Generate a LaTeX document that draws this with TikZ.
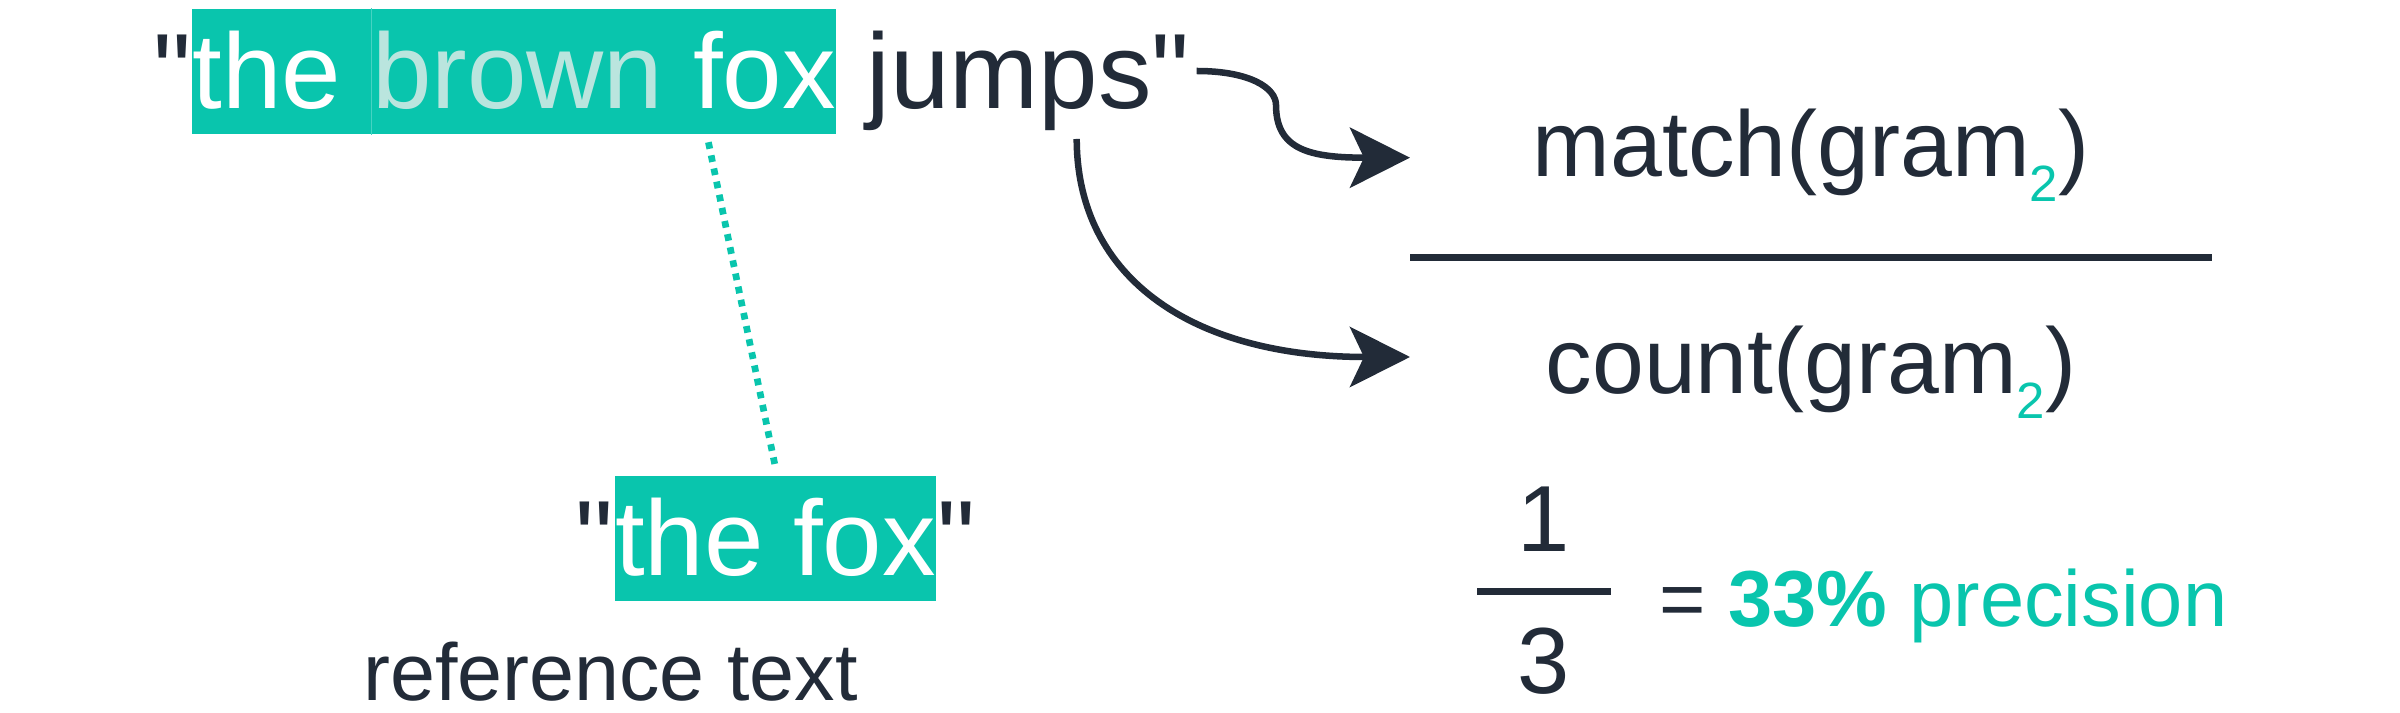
\documentclass[tikz,border=0pt]{standalone}
\usepackage{fontspec}
\setmainfont{Liberation Sans}[Ligatures=TeXOff]
\usetikzlibrary{arrows.meta}
\definecolor{inkdark}{RGB}{34, 43, 56}
\definecolor{hlteal}{RGB}{9, 197, 173}
\definecolor{paleteal}{RGB}{186, 229, 222}
\newcommand{\gramsub}{\raisebox{-0.25cm}{\fontsize{14.5pt}{17pt}\selectfont\color{hlteal}2}}

\begin{document}
\begin{tikzpicture}[
    x=0.01cm, y=-0.01cm,
    big/.style={font=\fontsize{30.4pt}{36pt}\selectfont, text=inkdark, inner sep=0pt},
    hl/.style={big, fill=hlteal, text=white, text height=1cm, text depth=0.25cm},
    formula/.style={font=\fontsize{26.5pt}{32pt}\selectfont, text=inkdark, inner sep=0pt},
    digit/.style={font=\fontsize{26.7pt}{32pt}\selectfont, text=inkdark, inner sep=0pt},
    caption/.style={font=\fontsize{23pt}{28pt}\selectfont, text=inkdark, inner sep=0pt},
    pointer/.style={-{Stealth[length=0.6cm, width=0.6cm, inset=0.14cm]}, line width=0.065cm, draw=inkdark},
    bar/.style={line width=0.07cm, draw=inkdark},
    dotlink/.style={draw=hlteal, line width=0.067cm, dash pattern=on 0.067cm off 0.067cm}
]
\useasboundingbox (0,0) rectangle (2400,713);

% Candidate sentence
\node[big, anchor=base east] (q1) at (191.7,109) {"};
\node[hl, anchor=base west] (the) at (191.7,109) {the\kern\fontdimen2\font};
\node[hl, anchor=base west] (brownfox) at (the.base east) {{\color{paleteal}brown} fox};
\node[big, anchor=base west] (jumps) at (brownfox.base east) {\ jumps"};
\draw[hlteal!75!white, line width=0.3pt] (the.north east) -- (the.south east);

% Reference sentence
\node[hl, anchor=base] (thefox) at (775.5,576) {the fox};
\node[big, anchor=base east] (q2) at (thefox.base west) {"};
\node[big, anchor=base west] (q3) at (thefox.base east) {"};
\node[caption, anchor=base] (reftext) at (610.5,700) {reference text};

\draw[dotlink] ([xshift=1.045cm, yshift=-0.075cm]brownfox.south) -- ([yshift=0.075cm]thefox.north);

% Precision fraction
\node[formula, anchor=base] (match) at (1811,176.7) {match(gram\gramsub)};
\node[formula, anchor=base] (count) at (1811,393.3) {count(gram\gramsub)};
\coordinate (barL) at (1410,258);
\coordinate (barR) at (2212,258);
\draw[bar] (barL) -- (barR);

% Arrows
\coordinate (a1s) at (1196.7,71);
\coordinate (a2s) at (1076.7,139);
\coordinate (t1) at (1410,157.7);
\coordinate (t2) at (1410,357);
\draw[pointer] (a1s) .. controls (1250,71) and (1276,88) .. (1276,105)
    .. controls (1276,150) and (1310,157.7) .. (t1);
\draw[pointer] (a2s) .. controls (1077,280) and (1195,357) .. (t2);

% Result
\node[digit, anchor=base] (one) at (1544,551.7) {1};
\node[digit, anchor=base] (three) at (1544,694) {3};
\coordinate (fracL) at (1477,591.7);
\coordinate (fracR) at (1611,591.7);
\draw[bar] (fracL) -- (fracR);
\node[caption, font=\fontsize{22.6pt}{28pt}\selectfont, anchor=base west] (result) at (1659,626.7)
    {= {\bfseries\color{hlteal}33\%} {\color{hlteal}precision}};

\end{tikzpicture}
\end{document}
